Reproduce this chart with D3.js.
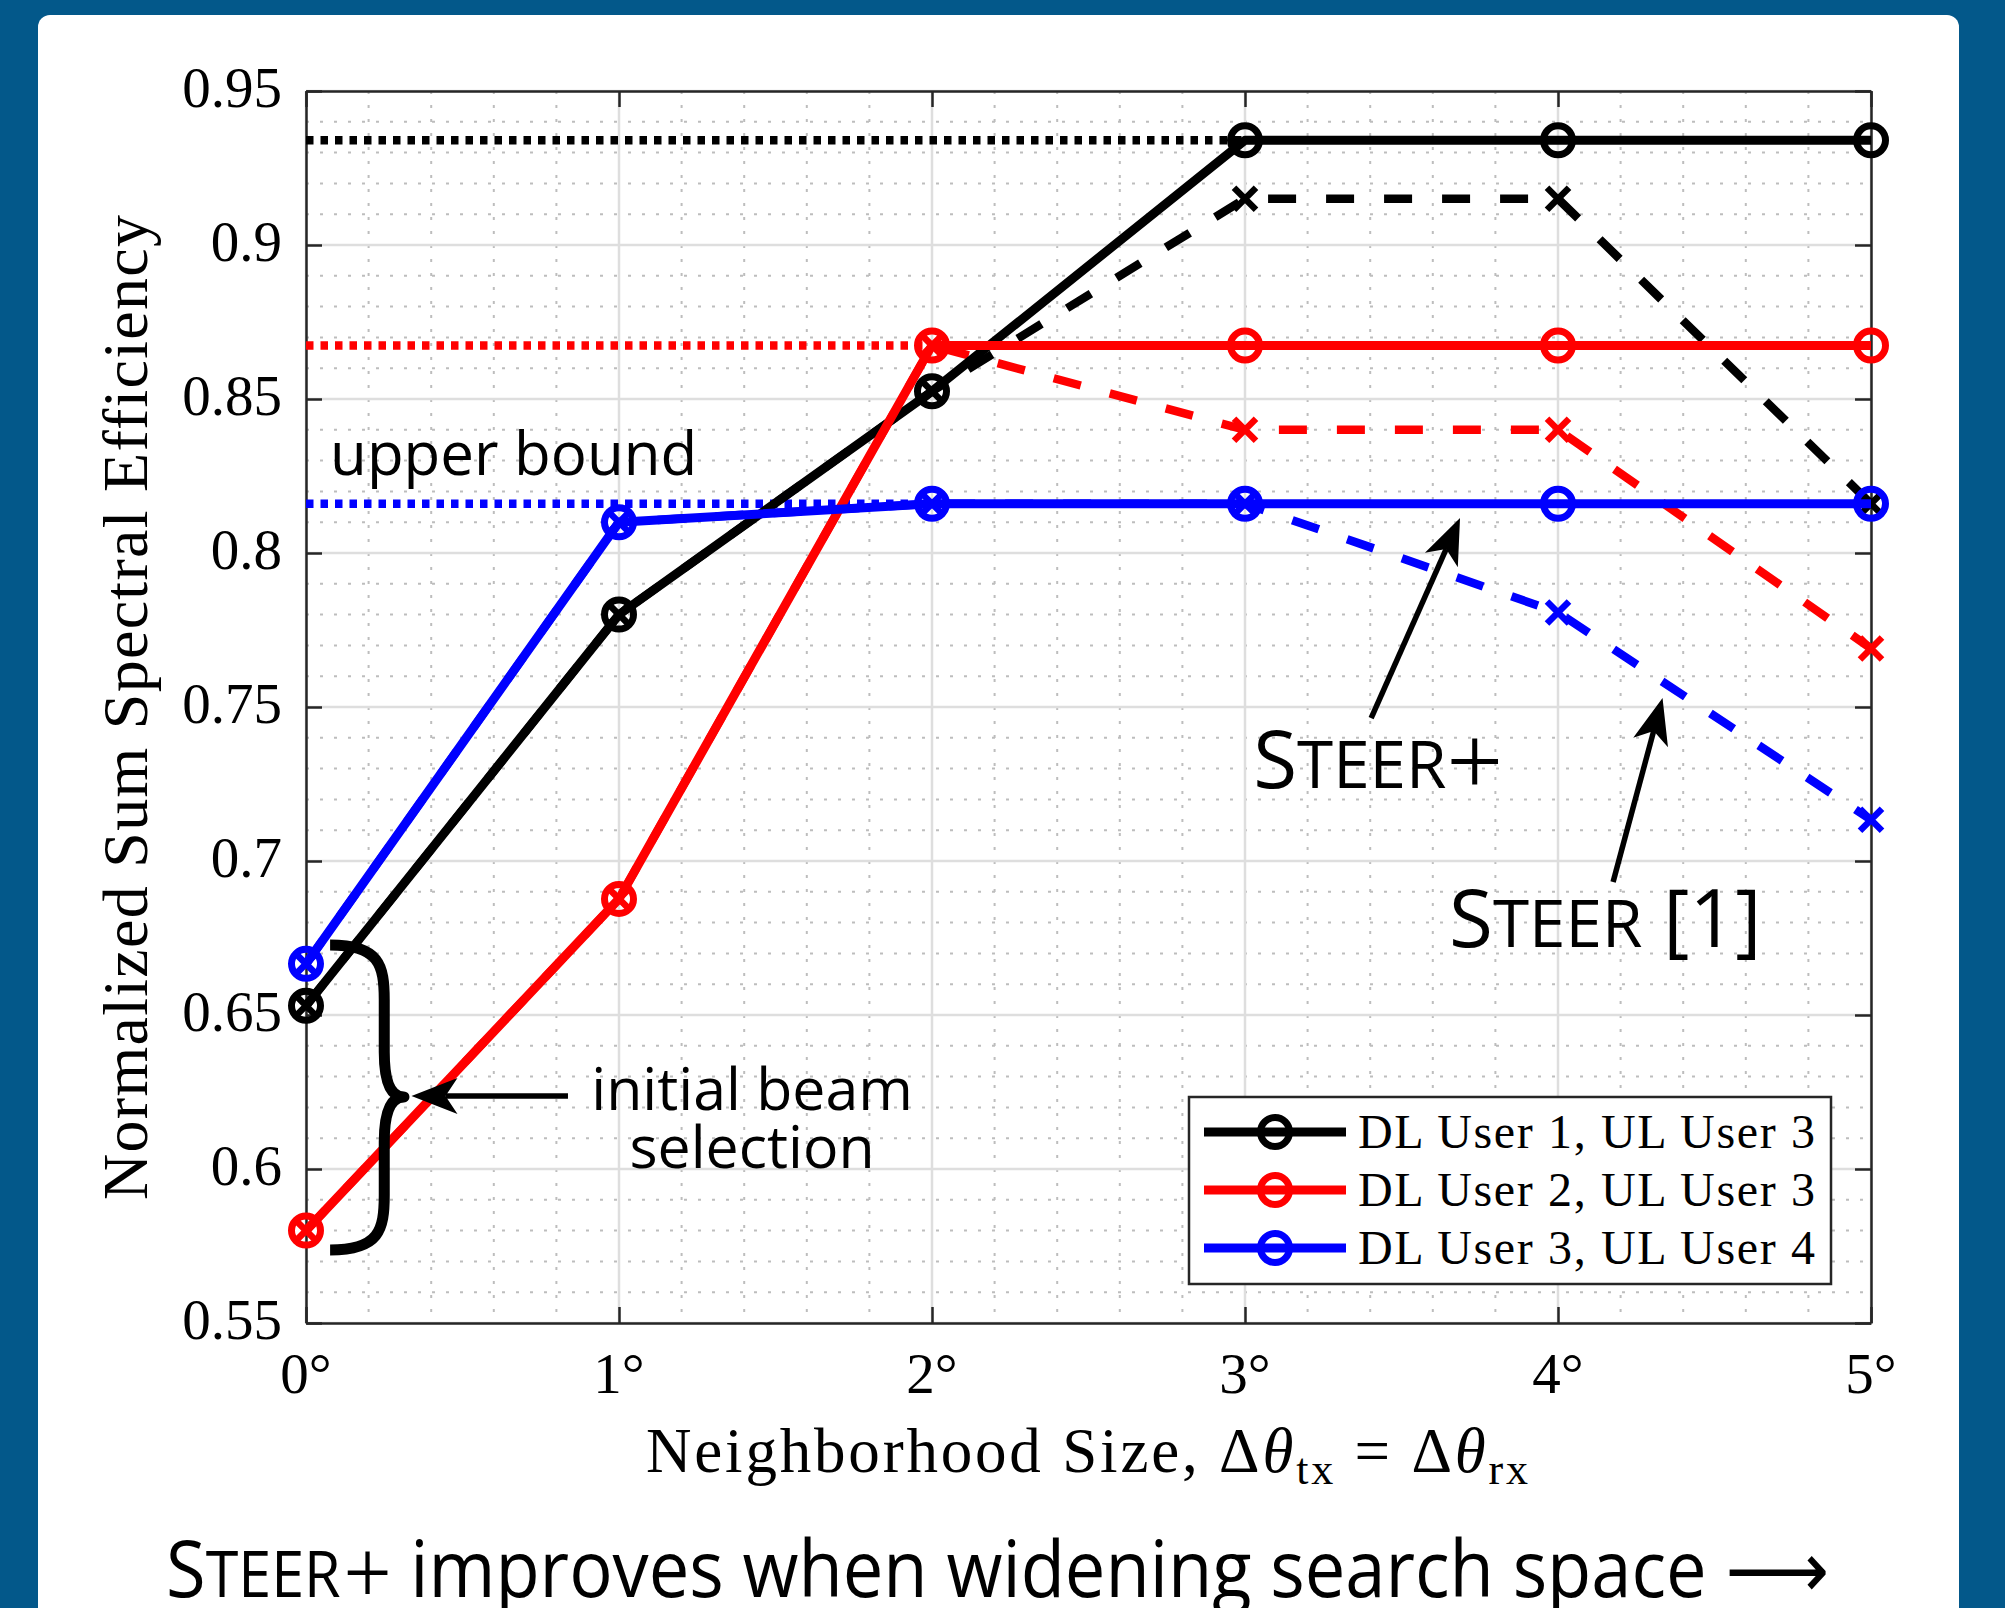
<!DOCTYPE html>
<html>
<head>
<meta charset="utf-8">
<script src="https://cdn.jsdelivr.net/npm/d3@7"></script>
<style>
  html, body { margin: 0; padding: 0; background: #03588a; }
  svg { display: block; }
</style>
</head>
<body>
<div id="chart"></div>
<script>
// neighborhood sizes (degrees) and tick labels
const steps = [0, 1, 2, 3, 4, 5];
const xTickLabels = ['0', '1', '2', '3', '4', '5'];
const yTicks = [0.55, 0.6, 0.65, 0.7, 0.75, 0.8, 0.85, 0.9, 0.95];
const yTickLabels = ['0.55', '0.6', '0.65', '0.7', '0.75', '0.8', '0.85', '0.9', '0.95'];

// STEER+ (solid, circles)
const plusUser1 = [0.653, 0.780, 0.8525, 0.934, 0.934, 0.934];
const plusUser2 = [0.580, 0.6877, 0.8674, 0.8674, 0.8674, 0.8674];
const plusUser3 = [0.6666, 0.810, 0.816, 0.816, 0.816, 0.816];

// STEER [1] (dashed, crosses)
const steerUser1 = [0.653, 0.780, 0.8525, 0.915, 0.915, 0.816];
const steerUser2 = [0.580, 0.6877, 0.8674, 0.840, 0.840, 0.769];
const steerUser3 = [0.6666, 0.810, 0.816, 0.816, 0.7807, 0.7134];

// upper bounds (dotted)
const upperBound = [0.934, 0.8674, 0.816];
const upperBoundEnd = [3, 2, 2];

const seriesNames = ['DL User 1, UL User 3', 'DL User 2, UL User 3', 'DL User 3, UL User 4'];
const colors = ['#000000', '#ff0000', '#0000ff'];

const W = 2005, H = 1608;
const pLeft = 306, pRight = 1871, pTop = 91, pBottom = 1323;

const svg = d3.select('#chart')
  .append('svg')
  .attr('width', W)
  .attr('height', H);

// white panel
svg.append('rect')
  .attr('x', 38).attr('y', 15)
  .attr('width', 1921).attr('height', 1700)
  .attr('rx', 12)
  .attr('fill', '#ffffff');

const x = d3.scaleLinear().domain([0, 5]).range([pLeft, pRight]);
const y = d3.scaleLinear().domain([0.55, 0.95]).range([pBottom, pTop]);

const serif = '"Liberation Serif", "DejaVu Serif", serif';
const sans = '"Open Sans", "Noto Sans", sans-serif';

// minor grid
const grid = svg.append('g');
const xMinor = d3.range(0, 5.0001, 0.2).filter(v => Math.abs(v - Math.round(v)) > 1e-6);
const yMinor = d3.range(0.55, 0.9501, 0.01).filter(v => Math.abs(v * 20 - Math.round(v * 20)) > 1e-6);

grid.selectAll('.xminor')
  .data(xMinor)
  .enter()
  .append('line')
  .attr('x1', d => x(d)).attr('x2', d => x(d))
  .attr('y1', pTop).attr('y2', pBottom)
  .attr('stroke', '#bdbdbd')
  .attr('stroke-width', 2)
  .attr('stroke-dasharray', '3,11');

grid.selectAll('.yminor')
  .data(yMinor)
  .enter()
  .append('line')
  .attr('x1', pLeft).attr('x2', pRight)
  .attr('y1', d => y(d)).attr('y2', d => y(d))
  .attr('stroke', '#bdbdbd')
  .attr('stroke-width', 2)
  .attr('stroke-dasharray', '3,11');

// major grid
grid.selectAll('.xmajor')
  .data(steps)
  .enter()
  .append('line')
  .attr('x1', d => x(d)).attr('x2', d => x(d))
  .attr('y1', pTop).attr('y2', pBottom)
  .attr('stroke', '#dedede')
  .attr('stroke-width', 2.5);

grid.selectAll('.ymajor')
  .data(yTicks)
  .enter()
  .append('line')
  .attr('x1', pLeft).attr('x2', pRight)
  .attr('y1', d => y(d)).attr('y2', d => y(d))
  .attr('stroke', '#dedede')
  .attr('stroke-width', 2.5);

// axes with inner ticks on all four sides
const tick = 16;
const axisColor = '#262626';
const axes = svg.append('g');

axes.append('g')
  .attr('transform', `translate(0,${pBottom})`)
  .call(d3.axisBottom(x).tickValues(steps).tickSize(-tick).tickSizeOuter(0).tickFormat(''));
axes.append('g')
  .attr('transform', `translate(0,${pTop})`)
  .call(d3.axisTop(x).tickValues(steps).tickSize(-tick).tickSizeOuter(0).tickFormat(''));
axes.append('g')
  .attr('transform', `translate(${pLeft},0)`)
  .call(d3.axisLeft(y).tickValues(yTicks).tickSize(-tick).tickSizeOuter(0).tickFormat(''));
axes.append('g')
  .attr('transform', `translate(${pRight},0)`)
  .call(d3.axisRight(y).tickValues(yTicks).tickSize(-tick).tickSizeOuter(0).tickFormat(''));

axes.selectAll('path.domain')
  .attr('stroke', axisColor)
  .attr('stroke-width', 2.5);
axes.selectAll('.tick line')
  .attr('stroke', axisColor)
  .attr('stroke-width', 2.5);

// tick labels
svg.selectAll('.xlab')
  .data(steps)
  .enter()
  .append('text')
  .attr('x', d => x(d))
  .attr('y', 1393)
  .attr('text-anchor', 'middle')
  .attr('font-family', serif)
  .attr('font-size', 57)
  .text((d, i) => xTickLabels[i] + '°');

svg.selectAll('.ylab')
  .data(yTicks)
  .enter()
  .append('text')
  .attr('x', 282)
  .attr('y', d => y(d) + 16)
  .attr('text-anchor', 'end')
  .attr('font-family', serif)
  .attr('font-size', 57)
  .text((d, i) => yTickLabels[i]);

// axis titles
const xTitle = svg.append('text')
  .attr('x', 646)
  .attr('y', 1472)
  .attr('font-family', serif)
  .attr('font-size', 63)
  .attr('textLength', 882)
  .attr('lengthAdjust', 'spacing');
xTitle.append('tspan').text('Neighborhood Size, Δ');
xTitle.append('tspan').attr('font-style', 'italic').text('θ');
xTitle.append('tspan').attr('font-size', 44).attr('dy', 12).text('tx');
xTitle.append('tspan').attr('dy', -12).text(' = Δ');
xTitle.append('tspan').attr('font-style', 'italic').text('θ');
xTitle.append('tspan').attr('font-size', 44).attr('dy', 12).text('rx');

svg.append('text')
  .attr('transform', 'translate(147,1200) rotate(-90)')
  .attr('font-family', serif)
  .attr('font-size', 64)
  .attr('textLength', 985)
  .attr('lengthAdjust', 'spacing')
  .text('Normalized Sum Spectral Efficiency');

const plot = svg.append('g');

// upper bound dotted lines
plot.selectAll('.ub')
  .data(upperBound)
  .enter()
  .append('line')
  .attr('x1', x(0))
  .attr('x2', (d, i) => x(upperBoundEnd[i]))
  .attr('y1', d => y(d))
  .attr('y2', d => y(d))
  .attr('stroke', (d, i) => colors[i])
  .attr('stroke-width', 8.5)
  .attr('stroke-dasharray', '7.5,7');

const line = d3.line()
  .x((d, i) => x(steps[i]))
  .y(d => y(d));

const steerSeries = [steerUser1, steerUser2, steerUser3];
const plusSeries = [plusUser1, plusUser2, plusUser3];

function crossMarks(g, vals, color) {
  const s = 11;
  g.selectAll(null)
    .data(vals)
    .enter()
    .append('path')
    .attr('d', (d, i) => {
      const cx = x(steps[i]), cy = y(d);
      return `M${cx - s},${cy - s}L${cx + s},${cy + s}M${cx - s},${cy + s}L${cx + s},${cy - s}`;
    })
    .attr('stroke', color)
    .attr('stroke-width', 6.5)
    .attr('fill', 'none');
}

function circleMarks(g, vals, color) {
  g.selectAll(null)
    .data(vals)
    .enter()
    .append('circle')
    .attr('cx', (d, i) => x(steps[i]))
    .attr('cy', d => y(d))
    .attr('r', 14.5)
    .attr('fill', 'none')
    .attr('stroke', color)
    .attr('stroke-width', 7);
}

// dashed STEER
steerSeries.forEach((vals, k) => {
  const g = plot.append('g');
  g.append('path')
    .attr('d', line(vals))
    .attr('fill', 'none')
    .attr('stroke', colors[k])
    .attr('stroke-width', 8.5)
    .attr('stroke-dasharray', '28,30');
  crossMarks(g, vals, colors[k]);
});

// solid STEER+
plusSeries.forEach((vals, k) => {
  const g = plot.append('g');
  g.append('path')
    .attr('d', line(vals))
    .attr('fill', 'none')
    .attr('stroke', colors[k])
    .attr('stroke-width', 9)
    .attr('stroke-linejoin', 'round');
  circleMarks(g, vals, colors[k]);
});

// annotations (data coordinates)
const ann = svg.append('g');

function arrow(x1, y1, x2, y2) {
  const X1 = x(x1), Y1 = y(y1), X2 = x(x2), Y2 = y(y2);
  const a = Math.atan2(Y2 - Y1, X2 - X1);
  const len = 46, half = 18, notch = 34;
  const bx = X2 - len * Math.cos(a), by = Y2 - len * Math.sin(a);
  const nx = X2 - notch * Math.cos(a), ny = Y2 - notch * Math.sin(a);
  const px = -Math.sin(a) * half, py = Math.cos(a) * half;
  ann.append('line')
    .attr('x1', X1).attr('y1', Y1)
    .attr('x2', nx).attr('y2', ny)
    .attr('stroke', '#000')
    .attr('stroke-width', 5.5);
  ann.append('path')
    .attr('d', `M${X2},${Y2}L${bx + px},${by + py}L${nx},${ny}L${bx - px},${by - py}Z`)
    .attr('fill', '#000');
}

arrow(3.403, 0.7464, 3.687, 0.8114);
arrow(4.176, 0.6932, 4.334, 0.7529);
arrow(0.837, 0.6237, 0.337, 0.6237);

// curly brace around initial beam selection
const bx0 = x(0.077), bx1 = x(0.25), btip = x(0.313);
const bTop = y(0.6727), bMid = y(0.6234), bBot = y(0.5737);
ann.append('path')
  .attr('d', `M${bx0},${bTop}
    C${bx1 - 5},${bTop} ${bx1},${bTop + 20} ${bx1},${bTop + 55}
    L${bx1},${bMid - 45}
    C${bx1},${bMid - 12} ${bx1 + 8},${bMid} ${btip},${bMid}
    C${bx1 + 8},${bMid} ${bx1},${bMid + 12} ${bx1},${bMid + 45}
    L${bx1},${bBot - 55}
    C${bx1},${bBot - 20} ${bx1 - 5},${bBot} ${bx0},${bBot}`)
  .attr('fill', 'none')
  .attr('stroke', '#000')
  .attr('stroke-width', 11)
  .attr('stroke-linejoin', 'round');

svg.append('text')
  .attr('x', x(0.077)).attr('y', y(0.8253))
  .attr('font-family', sans)
  .attr('font-size', 60)
  .text('upper bound');

svg.append('text')
  .attr('x', x(1.425)).attr('y', y(0.6192))
  .attr('text-anchor', 'middle')
  .attr('font-family', sans)
  .attr('font-size', 59)
  .text('initial beam');

svg.append('text')
  .attr('x', x(1.425)).attr('y', y(0.6003))
  .attr('text-anchor', 'middle')
  .attr('font-family', sans)
  .attr('font-size', 59)
  .text('selection');

// small-caps STEER label with a thin math plus / reference
function steerText(sel, size) {
  sel.append('tspan').text('S');
  sel.append('tspan').attr('font-size', size * 0.82).text('TEER');
}

const plusLabel = svg.append('text')
  .attr('x', x(3.026)).attr('y', y(0.7237))
  .attr('font-family', sans)
  .attr('font-size', 80);
steerText(plusLabel, 80);
plusLabel.append('tspan')
  .attr('font-family', serif)
  .attr('font-size', 100)
  .attr('dy', 7)
  .text('+');

const refLabel = svg.append('text')
  .attr('x', x(3.652)).attr('y', y(0.6722))
  .attr('font-family', sans)
  .attr('font-size', 80);
steerText(refLabel, 80);
refLabel.append('tspan').text(' [1]');

// legend
const lg = svg.append('g');
lg.append('rect')
  .attr('x', 1189).attr('y', 1097)
  .attr('width', 642).attr('height', 187)
  .attr('fill', '#fff')
  .attr('stroke', axisColor)
  .attr('stroke-width', 2.5);

const rows = lg.selectAll('.row')
  .data(seriesNames)
  .enter()
  .append('g')
  .attr('transform', (d, i) => `translate(0,${1132 + i * 58})`);

rows.append('line')
  .attr('x1', 1204).attr('x2', 1346)
  .attr('stroke', (d, i) => colors[i])
  .attr('stroke-width', 9);
rows.append('circle')
  .attr('cx', 1275).attr('r', 14.5)
  .attr('fill', 'none')
  .attr('stroke', (d, i) => colors[i])
  .attr('stroke-width', 7);
rows.append('text')
  .attr('x', 1358).attr('y', 16)
  .attr('font-family', serif)
  .attr('font-size', 48)
  .attr('textLength', 457)
  .attr('lengthAdjust', 'spacing')
  .text(d => d);

// caption
const cap = svg.append('text')
  .attr('x', 166).attr('y', 1597)
  .attr('font-family', sans)
  .attr('font-size', 78)
  .attr('textLength', 1663)
  .attr('lengthAdjust', 'spacingAndGlyphs');
steerText(cap, 78);
cap.append('tspan')
  .attr('font-family', serif)
  .attr('font-size', 92)
  .attr('dx', 3)
  .attr('dy', 6)
  .text('+');
cap.append('tspan')
  .attr('dy', -6)
  .text(' improves when widening search space ');
cap.append('tspan')
  .attr('font-family', '"DejaVu Sans", sans-serif')
  .text('⟶');
</script>
</body>
</html>
